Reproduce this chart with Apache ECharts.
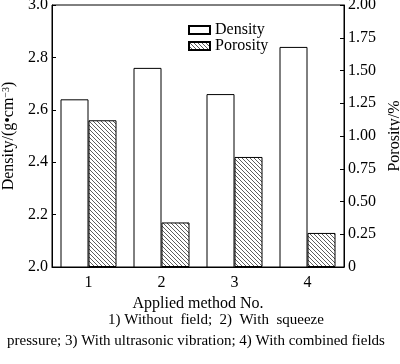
<!DOCTYPE html>
<html><head><meta charset="utf-8">
<script src="https://cdn.jsdelivr.net/npm/echarts@6/dist/echarts.min.js"></script>
<style>html,body{margin:0;padding:0;background:#fff}#c{width:400px;height:364px}</style>
</head><body><div id="c"></div>
<script>
const categories = ['1', '2', '3', '4'];
const densityValues = [2.64, 2.76, 2.66, 2.84];
const porosityValues = [1.12, 0.34, 0.84, 0.26];
const captionLines = ['1) Without  field;  2)  With  squeeze', 'pressure; 3) With ultrasonic vibration; 4) With combined fields'];

function hatch() {
  const c = document.createElement('canvas');
  c.width = c.height = 4;
  const g = c.getContext('2d');
  g.fillStyle = '#fff'; g.fillRect(0, 0, 4, 4);
  g.strokeStyle = '#333'; g.lineWidth = 0.8;
  g.beginPath();
  g.moveTo(-1, -1); g.lineTo(5, 5);
  g.moveTo(-1, 3); g.lineTo(1, 5);
  g.moveTo(3, -1); g.lineTo(5, 1);
  g.stroke();
  return c;
}
const F = '"Liberation Serif", "Times New Roman", serif';
const chart = echarts.init(document.getElementById('c'), null, {renderer: 'canvas'});
chart.setOption({
  animation: false,
  backgroundColor: '#fff',
  textStyle: {fontFamily: F, color: '#000'},
  grid: {left: 52, right: 56, top: 5, bottom: 97, containLabel: false, outerBoundsMode: 'none',
    show: true, borderColor: '#000', borderWidth: 1, backgroundColor: 'transparent'},
  legend: {
    orient: 'vertical', left: 183, top: 17, itemWidth: 21, itemHeight: 8, itemGap: 0,
    icon: 'rect',
    textStyle: {fontFamily: F, fontSize: 16, color: '#000'},
    data: ['Density', 'Porosity']
  },
  xAxis: {
    type: 'category', data: categories,
    name: 'Applied method No.', nameLocation: 'middle', nameGap: 27,
    nameTextStyle: {fontFamily: F, fontSize: 16, color: '#000'},
    axisLine: {lineStyle: {color: '#000'}},
    axisTick: {show: false},
    axisLabel: {fontFamily: F, fontSize: 16, color: '#000', margin: 8}
  },
  yAxis: [{
    type: 'value', min: 2.0, max: 3.0, interval: 0.2,
    name: '{a|Density/(g•cm}{s|−3}{a|)}', nameLocation: 'middle', nameGap: 34, nameRotate: 90,
    nameTextStyle: {rich: {a: {fontFamily: F, fontSize: 16, color: '#000'}, s: {fontFamily: F, fontSize: 10, color: '#000', verticalAlign: 'top', padding: [0,0,6,0]}}},
    axisLine: {show: true, lineStyle: {color: '#000'}},
    axisTick: {show: true, inside: true, length: 4, lineStyle: {color: '#000'}},
    splitLine: {show: false},
    axisLabel: {fontFamily: F, fontSize: 16, color: '#000', margin: 4, formatter: v => v.toFixed(1)}
  }, {
    type: 'value', min: 0, max: 2.0, interval: 0.25, position: 'right',
    name: 'Porosity/%', nameLocation: 'middle', nameGap: 42, nameRotate: 90,
    nameTextStyle: {fontFamily: F, fontSize: 16, color: '#000'},
    axisLine: {show: true, lineStyle: {color: '#000'}},
    axisTick: {show: true, inside: true, length: 4, lineStyle: {color: '#000'}},
    splitLine: {show: false},
    axisLabel: {fontFamily: F, fontSize: 16, color: '#000', margin: 4, formatter: v => v === 0 ? '0' : v.toFixed(2)}
  }],
  series: [{
    name: 'Density', type: 'bar', data: densityValues, yAxisIndex: 0,
    barWidth: 28, barGap: '0%',
    itemStyle: {color: '#fff', borderColor: '#000', borderWidth: 1}
  }, {
    name: 'Porosity', type: 'bar', data: porosityValues, yAxisIndex: 1,
    barWidth: 28,
    itemStyle: {color: {image: hatch(), repeat: 'repeat'}, borderColor: '#000', borderWidth: 1}
  }],
  graphic: [
    {type: 'text', x: 216, y: 320, style: {text: captionLines[0], font: '15px ' + F, fill: '#000', align: 'center', verticalAlign: 'middle'}},
    {type: 'text', x: 196, y: 341, style: {text: captionLines[1], font: '15px ' + F, fill: '#000', align: 'center', verticalAlign: 'middle'}}
  ]
});
</script></body></html>
